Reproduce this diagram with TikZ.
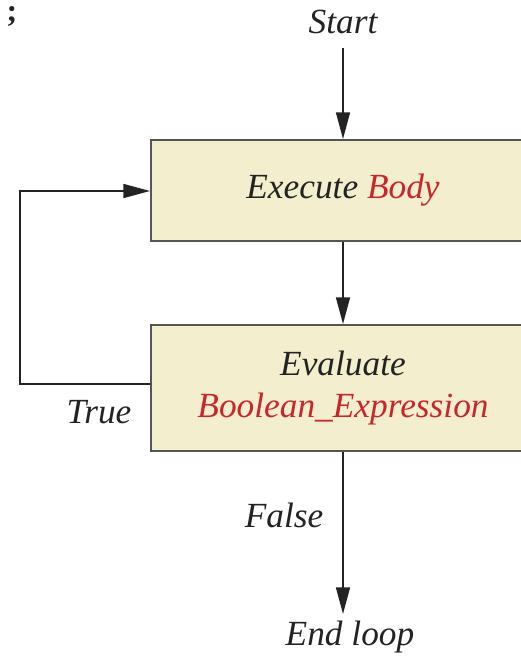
\documentclass[tikz,border=0pt]{standalone}
\usepackage{fontspec}
\setmainfont{Liberation Serif}
\usetikzlibrary{arrows.meta}
\definecolor{boxfill}{RGB}{243,238,205}
\definecolor{boxline}{RGB}{85,85,85}
\definecolor{hl}{RGB}{200,38,42}
\definecolor{ink}{RGB}{35,35,35}
\begin{document}
\begin{tikzpicture}[x=0.75pt,y=-0.75pt,
  lbl/.style={font=\fontsize{26.5}{30}\selectfont\itshape, text=ink, inner sep=0pt},
  stepbox/.style={draw=boxline, line width=1.5pt, fill=boxfill, minimum width=288pt, inner sep=0pt, align=center, font=\fontsize{26.5}{34}\selectfont\itshape, text=ink},
  conn/.style={draw=ink, line width=1.1pt},
  arr/.style={conn, -{Triangle[length=20pt,width=10.5pt]}}]
\useasboundingbox (0,0) rectangle (521,657);
\clip (0,0) rectangle (521,657);
\node[font=\fontsize{24}{28}\selectfont\bfseries, text=ink, inner sep=0pt, anchor=center] (semi) at (12,16) {;};
\node[lbl] (start) at (343,22) {Start};
\node[stepbox, minimum height=75.75pt] (body) at (343,190.5) {Execute {\color{hl}Body}};
\node[stepbox, minimum height=94.5pt] (eval) at (343,388) {Evaluate\\[-2pt]{\color{hl}Boolean\_Expression}};
\node[lbl] (endl) at (350,637) {End loop};
\node[lbl] (false) at (284,515) {False};
\node[lbl] (true) at (99,412) {True};
\coordinate (lb) at (20,384);
\coordinate (lt) at (20,191);
\draw[arr] (343,48) -- (body.north);
\draw[arr] (body.south) -- (eval.north);
\draw[arr] (eval.south) -- (343,614);
\draw[arr] (eval.west |- lb) -- (lb) -- (lt) -- (body.west |- lt);
\end{tikzpicture}
\end{document}
